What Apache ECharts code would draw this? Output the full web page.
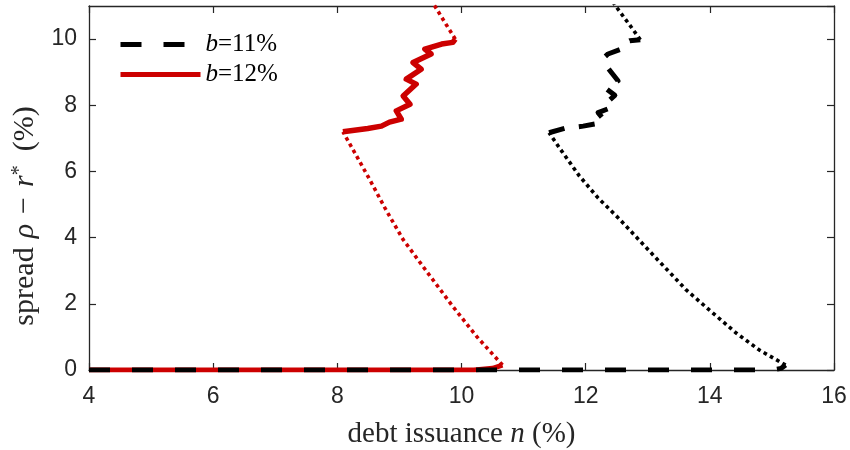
<!DOCTYPE html>
<html>
<head>
<meta charset="utf-8">
<script src="https://cdn.jsdelivr.net/npm/echarts@6/dist/echarts.min.js"></script>
<style>html,body{margin:0;padding:0;background:#fff}#c{width:850px;height:450px}</style>
</head>
<body>
<div id="c"></div>
<script>
// ---- data (debt issuance n %, spread %) ----
const seriesNames = ['b=11%', 'b=12%'];
const xTicks = [4, 6, 8, 10, 12, 14, 16];
const yTicks = [0, 2, 4, 6, 8, 10];

// b = 12% (red)
const red0X = [4, 10.2, 10.5, 10.66];
const red0Y = [0, 0, 0.05, 0.15];
const redLowX = [10.66, 10.25, 9.86, 9.45, 9.06, 8.78, 8.52, 8.3, 8.12, 8.09];
const redLowY = [0.15, 1.0, 1.92, 2.95, 3.94, 4.85, 5.76, 6.5, 7.1, 7.2];
const redZigX = [8.09, 8.49, 8.71, 8.84, 9.03, 8.95, 9.17, 9.06, 9.27, 9.11, 9.35, 9.22, 9.51, 9.41, 9.68, 9.86, 9.9];
const redZigY = [7.2, 7.3, 7.37, 7.49, 7.58, 7.83, 8.03, 8.28, 8.64, 8.79, 9.09, 9.29, 9.55, 9.7, 9.85, 9.9, 10.0];
const redTopX = [9.9, 9.75, 9.57, 9.5];
const redTopY = [10.0, 10.45, 11.0, 11.2];

// b = 11% (black)
const blk0X = [4, 15.0, 15.15, 15.22];
const blk0Y = [0, 0, 0.05, 0.15];
const blkLowX = [15.22, 14.8, 14.43, 14.0, 13.62, 13.1, 12.55, 12.2, 11.9, 11.62, 11.41];
const blkLowY = [0.15, 0.6, 1.11, 1.8, 2.42, 3.45, 4.55, 5.2, 5.86, 6.6, 7.17];
const blkZigX = [11.41, 11.66, 11.96, 12.2, 12.3, 12.2, 12.44, 12.38, 12.47, 12.33, 12.52, 12.31, 12.3, 12.36, 12.58, 12.6, 12.71, 12.88];
const blkZigY = [7.17, 7.3, 7.37, 7.45, 7.55, 7.78, 7.95, 8.15, 8.3, 8.5, 8.74, 9.24, 9.45, 9.55, 9.7, 9.85, 9.95, 9.98];
const blkTopX = [12.88, 12.7, 12.47, 12.42];
const blkTopY = [9.98, 10.45, 11.03, 11.2];

const pairs = (xs, ys) => xs.map((x, i) => [x, ys[i]]);

const RED = '#cc0000', BLK = '#000000', AX = '#262626';
const dotted = [3.6, 3.6];
const dashed = [21, 22];
const zigDash = [16, 14.5];

function mk(name, xs, ys, color, width, type) {
  return {
    name: name, type: 'line', data: pairs(xs, ys), symbol: 'none',
    lineStyle: { color: color, width: width, type: type, cap: 'butt', join: 'round' },
    itemStyle: { color: color }, clip: true, animation: false, silent: true
  };
}

const series = [
  mk(seriesNames[1], red0X, red0Y, RED, 5, 'solid'),
  mk('r-zig', redZigX, redZigY, RED, 5.5, 'solid'),
  mk('r-low', redLowX, redLowY, RED, 3.6, dotted),
  mk('r-top', redTopX, redTopY, RED, 3.6, dotted),
  mk(seriesNames[0], blk0X, blk0Y, BLK, 5, dashed),
  mk('k-zig', blkZigX, blkZigY, BLK, 5, zigDash),
  mk('k-low', blkLowX, blkLowY, BLK, 3.6, dotted),
  mk('k-top', blkTopX, blkTopY, BLK, 3.6, dotted)
];

const serif = 'Liberation Serif';
const tickLbl = { color: AX, fontFamily: 'Liberation Sans', fontSize: 23 };

const chart = echarts.init(document.getElementById('c'), null, { renderer: 'canvas' });
chart.setOption({
  animation: false,
  backgroundColor: '#fff',
  grid: { left: 89, right: 16, top: 6, bottom: 80, show: false, containLabel: false, outerBoundsMode: 'none' },
  legend: {
    data: seriesNames,
    orient: 'vertical', left: 113, top: 27,
    itemWidth: 80, itemHeight: 14, itemGap: 5,
    itemStyle: { opacity: 0 },
    lineStyle: { width: 5 },
    formatter: n => '{i|' + n[0] + '}{n|' + n.slice(1) + '}',
    textStyle: {
      rich: {
        i: { fontFamily: serif, fontStyle: 'italic', fontSize: 25, color: '#000', lineHeight: 24 },
        n: { fontFamily: serif, fontSize: 25, color: '#000', lineHeight: 24 }
      }
    }
  },
  xAxis: [{
    type: 'value', min: xTicks[0], max: xTicks[xTicks.length - 1], interval: 2,
    position: 'bottom',
    axisLine: { show: true, onZero: false, lineStyle: { color: AX, width: 1.3 } },
    axisTick: { show: true, inside: true, length: 7, lineStyle: { color: AX, width: 1.2 } },
    axisLabel: Object.assign({ margin: 15 }, tickLbl),
    splitLine: { show: false },
    name: '{t|debt issuance }{m|n}{t| (%)}',
    nameLocation: 'middle', nameGap: 50,
    nameTextStyle: {
      rich: {
        t: { fontFamily: serif, fontSize: 29, color: AX },
        m: { fontFamily: serif, fontStyle: 'italic', fontSize: 29, color: AX }
      }
    }
  }, {
    type: 'value', min: xTicks[0], max: xTicks[xTicks.length - 1], interval: 2,
    position: 'top',
    axisLine: { show: true, onZero: false, lineStyle: { color: AX, width: 1.3 } },
    axisTick: { show: true, inside: true, length: 7, lineStyle: { color: AX, width: 1.2 } },
    axisLabel: { show: false }, splitLine: { show: false }
  }],
  yAxis: [{
    type: 'value', min: 0, max: 11, interval: 2,
    position: 'left',
    axisLine: { show: true, onZero: false, lineStyle: { color: AX, width: 1.3 } },
    axisTick: { show: true, inside: true, length: 7, lineStyle: { color: AX, width: 1.2 } },
    axisLabel: Object.assign({ margin: 12, showMaxLabel: false,
      formatter: v => (yTicks.indexOf(v) >= 0 ? String(v) : '') }, tickLbl),
    splitLine: { show: false },
    name: '{t|spread}{m|ρ}{o|−}{m|r}{s|*}{p|(%)}',
    nameLocation: 'middle', nameGap: 46, nameRotate: 90,
    nameTextStyle: {
      padding: [0, 56, 0, 0],
      rich: {
        t: { fontFamily: serif, fontSize: 30, color: AX, padding: [0, 9, 0, 0] },
        m: { fontFamily: serif, fontStyle: 'italic', fontSize: 30, color: AX },
        o: { fontFamily: serif, fontSize: 30, color: AX, padding: [0, 10, 0, 10] },
        s: { fontFamily: serif, fontSize: 20, color: AX, padding: [0, 0, 12, 0] },
        p: { fontFamily: serif, fontSize: 30, color: AX, padding: [0, 0, 0, 14] }
      }
    }
  }, {
    type: 'value', min: 0, max: 11, interval: 2,
    position: 'right',
    axisLine: { show: true, onZero: false, lineStyle: { color: AX, width: 1.3 } },
    axisTick: { show: true, inside: true, length: 7, lineStyle: { color: AX, width: 1.2 } },
    axisLabel: { show: false }, splitLine: { show: false }
  }],
  series: series
});
</script>
</body>
</html>
